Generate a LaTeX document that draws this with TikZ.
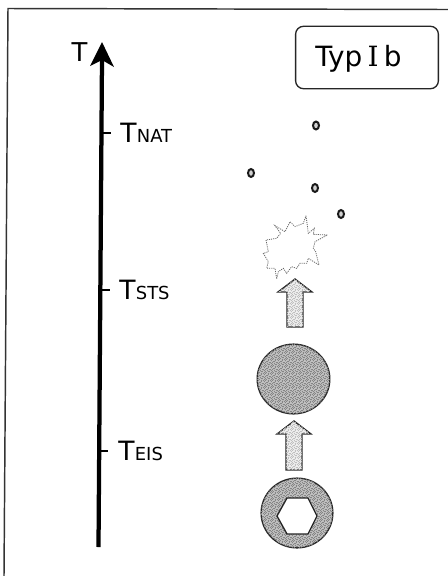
\documentclass[tikz,border=0pt]{standalone}
\usepackage{fontspec}
\setmainfont{DejaVu Sans}
\newfontfamily\slabface{DejaVu Serif}
\usetikzlibrary{patterns,shapes.geometric}
\definecolor{discgrey}{gray}{0.76}
\definecolor{arrowfill}{gray}{0.94}
% irregular grain laid over the filled shapes, on a 7-unit tile
\newcommand{\graindot}[2]{\pgfpathrectangle{\pgfpoint{#1*.75pt}{#2*.75pt}}{\pgfqpoint{.75pt}{.75pt}}}
\pgfdeclarepatternformonly{grain}{\pgfqpoint{0pt}{0pt}}{\pgfqpoint{5.25pt}{5.25pt}}{\pgfqpoint{5.25pt}{5.25pt}}{%
  \graindot{0}{0}\graindot{3}{0}\graindot{5}{0}%
  \graindot{1}{1}\graindot{6}{1}%
  \graindot{3}{2}\graindot{4}{2}\graindot{0}{2}%
  \graindot{2}{3}\graindot{6}{3}%
  \graindot{0}{4}\graindot{4}{4}\graindot{5}{4}%
  \graindot{2}{5}\graindot{1}{5}%
  \graindot{3}{6}\graindot{6}{6}%
  \pgfusepath{fill}}
\tikzset{
  frameline/.style={line width=1.1pt,black!80},
  axisline/.style={line width=3.2pt,black},
  tick/.style={line width=1.5pt,black},
  disc/.style={ellipse,inner sep=0pt,draw=black!85,line width=1pt,fill=discgrey,
    postaction={pattern=grain,pattern color=black!48}},
  upblock/.style={draw=black!85,line width=1pt,fill=arrowfill,line join=miter,
    postaction={pattern=grain,pattern color=black!25}},
  fragment/.style={draw=black!90,line width=1.5pt,fill=black!18,ellipse,inner sep=0pt,minimum width=4.5pt,minimum height=6pt},
  burst/.style={draw=black!60,line width=.6pt,dash pattern=on .8pt off .8pt,fill=white},
  typebox/.style={draw=black!85,line width=1pt,rounded corners=6pt},
}
% a large capital followed by small capitals
\newcommand{\tempname}[1]{{\fontsize{20}{20}\selectfont T}\kern.3pt{\fontsize{13.5}{14}\selectfont #1}}
\begin{document}
\begin{tikzpicture}[x=0.02646cm,y=-0.02646cm]
\useasboundingbox (0,0) rectangle (448,576);
\fill[white] (0,0) rectangle (448,576);

% outer frame
\coordinate (frameTL) at (8,8.5);
\coordinate (frameBL) at (4,576);
\coordinate (frameTR) at (448,9.5);
\draw[frameline] (frameBL) -- (frameTL) -- (frameTR);

% time axis with its head and ticks
\coordinate (axisfoot) at (98.5,547);
\coordinate (axistip) at (102,58);
\draw[axisline] (axisfoot) -- (axistip);
\fill[black] (102,42) -- (114,67) -- (102,60) -- (90,66) -- cycle;
\node[inner sep=0pt,font=\fontsize{19.5}{20}\selectfont] (axisname) at (79.5,52.5) {T};

\coordinate (tickN) at (103,133);
\coordinate (tickS) at (102,290);
\coordinate (tickE) at (100,451);
\draw[tick] (tickN) -- ++(8,0);
\draw[tick] (tickS) -- ++(8,0);
\draw[tick] (tickE) -- ++(8,0);

\node[anchor=base west,inner sep=0pt] (tnat) at (120,142.5) {\tempname{NAT}};
\node[anchor=base west,inner sep=0pt] (tsts) at (119,299.5) {\tempname{STS}};
\node[anchor=base west,inner sep=0pt] (teis) at (118,460) {\tempname{EIS}};

% label box
\node[typebox,minimum width=107.5pt,minimum height=47pt,inner sep=0pt] (typ) at (367,57.5) {};
\node[anchor=base,inner sep=0pt,font=\fontsize{21}{21}\selectfont] (typtext) at (358.5,66) {Typ\kern4pt{\slabface I}\kern4pt b};

% fragments
\node[fragment] (f1) at (316,125.5) {};
\node[fragment] (f2) at (251,173) {};
\node[fragment] (f3) at (315,188) {};
\node[fragment] (f4) at (341,214) {};

% exploding star
\begin{scope}[shift={(250,205)},scale=0.3333]
\draw[burst] (168,32) -- (175,85) -- (193,70) -- (190,88) -- (232,90) -- (195,110) -- (190,130) -- (197,140) -- (207,180) -- (175,160) -- (170,175) -- (150,175) -- (140,190) -- (125,185) -- (110,205) -- (100,190) -- (85,200) -- (80,222) -- (75,190) -- (50,190) -- (55,170) -- (40,145) -- (55,140) -- (48,105) -- (80,100) -- (92,85) -- (75,62) -- (105,80) -- (120,50) -- (135,65) -- (160,55) -- cycle;
\end{scope}

% disc and ring
\node[disc,minimum width=54.7pt,minimum height=52.5pt] (star) at (293.5,379) {};
\node[disc,minimum width=54pt,minimum height=52.5pt] (ring) at (297,513) {};
\draw[draw=black!85,line width=1pt,fill=white] (277,516) -- (287,498) -- (308,498) -- (317,516) -- (308,534) -- (287,534) -- cycle;

% upward block arrows
\draw[upblock] (287,327) -- (287,292) -- (278,292) -- (295,279) -- (312,292) -- (303,292) -- (303,327) -- cycle;
\draw[upblock] (286,470) -- (286,434) -- (277,434) -- (294,421) -- (311,434) -- (302,434) -- (302,470) -- cycle;
\end{tikzpicture}
\end{document}
